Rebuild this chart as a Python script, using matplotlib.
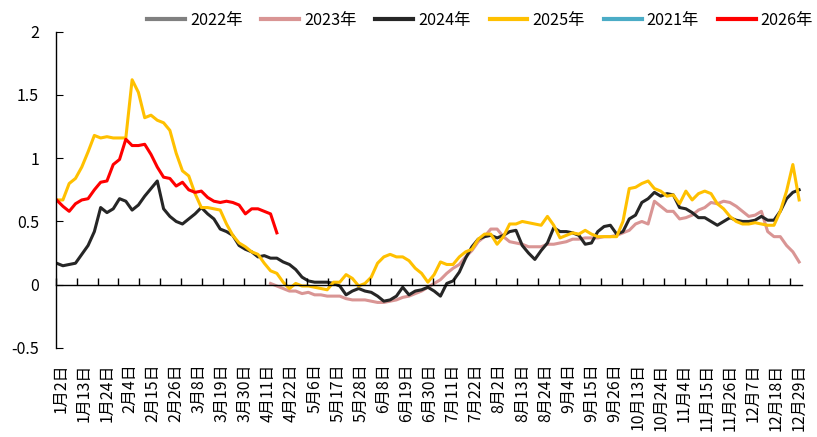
import numpy as np
import matplotlib.pyplot as plt
import matplotlib.transforms as mtransforms

plt.rcParams['font.family'] = ['Noto Sans CJK SC', 'DejaVu Sans']
plt.rcParams['axes.unicode_minus'] = False

# 日序（每3个交易日取一个点），共356个类别
n_days = 356
x_idx = np.arange(0, n_days, 3)

date_labels = ['1月2日', '1月13日', '1月24日', '2月4日', '2月15日', '2月26日', '3月8日',
               '3月19日', '3月30日', '4月11日', '4月22日', '5月6日', '5月17日', '5月28日',
               '6月8日', '6月19日', '6月30日', '7月11日', '7月22日', '8月2日', '8月13日',
               '8月24日', '9月4日', '9月15日', '9月26日', '10月13日', '10月24日', '11月4日',
               '11月15日', '11月26日', '12月7日', '12月18日', '12月29日']

nan = np.nan

y2022 = []
y2021 = []

y2023 = [nan] * 34 + [
    0.01, -0.01, -0.03, -0.05, -0.05, -0.07, -0.06, -0.08, -0.08, -0.09,
    -0.09, -0.09, -0.11, -0.12, -0.12, -0.12, -0.13, -0.14, -0.14, -0.13,
    -0.12, -0.10, -0.09, -0.07, -0.05, -0.02, 0.01, 0.04, 0.09, 0.13,
    0.16, 0.22, 0.27, 0.34, 0.38, 0.44, 0.44, 0.38, 0.34, 0.33,
    0.32, 0.30, 0.30, 0.30, 0.32, 0.32, 0.33, 0.34, 0.36, 0.36,
    0.37, 0.37, 0.37, 0.38, 0.38, 0.39, 0.41, 0.43, 0.48, 0.50,
    0.48, 0.66, 0.62, 0.58, 0.58, 0.52, 0.53, 0.55, 0.59, 0.61,
    0.65, 0.64, 0.66, 0.65, 0.62, 0.58, 0.54, 0.55, 0.58, 0.42,
    0.38, 0.38, 0.31, 0.26, 0.18]

y2024 = [
    0.17, 0.15, 0.16, 0.17, 0.24, 0.31, 0.42, 0.61, 0.57, 0.60,
    0.68, 0.66, 0.59, 0.63, 0.70, 0.76, 0.82, 0.60, 0.54, 0.50,
    0.48, 0.52, 0.56, 0.61, 0.56, 0.52, 0.44, 0.42, 0.39, 0.31,
    0.28, 0.26, 0.22, 0.23, 0.21, 0.21, 0.18, 0.16, 0.12, 0.06,
    0.03, 0.02, 0.02, 0.02, 0.01, -0.01, -0.08, -0.05, -0.03, -0.05,
    -0.06, -0.09, -0.13, -0.12, -0.09, -0.02, -0.08, -0.05, -0.04, -0.02,
    -0.05, -0.09, 0.01, 0.03, 0.10, 0.21, 0.30, 0.36, 0.38, 0.39,
    0.37, 0.39, 0.42, 0.43, 0.31, 0.25, 0.20, 0.27, 0.33, 0.45,
    0.42, 0.42, 0.41, 0.39, 0.32, 0.33, 0.42, 0.46, 0.47, 0.40,
    0.42, 0.52, 0.55, 0.65, 0.68, 0.73, 0.70, 0.72, 0.71, 0.61,
    0.60, 0.57, 0.53, 0.53, 0.50, 0.47, 0.50, 0.53, 0.51, 0.50,
    0.50, 0.51, 0.54, 0.51, 0.51, 0.58, 0.68, 0.73, 0.75]

y2025 = [
    0.67, 0.67, 0.80, 0.84, 0.93, 1.05, 1.18, 1.16, 1.17, 1.16,
    1.16, 1.16, 1.62, 1.52, 1.32, 1.34, 1.30, 1.28, 1.22, 1.04,
    0.90, 0.86, 0.72, 0.61, 0.61, 0.60, 0.59, 0.48, 0.39, 0.33,
    0.30, 0.26, 0.24, 0.17, 0.11, 0.09, 0.02, -0.03, 0.01, -0.01,
    -0.01, -0.02, -0.03, -0.04, 0.02, 0.02, 0.08, 0.05, -0.01, 0.01,
    0.06, 0.17, 0.22, 0.24, 0.22, 0.22, 0.19, 0.13, 0.09, 0.02,
    0.08, 0.18, 0.16, 0.16, 0.22, 0.26, 0.28, 0.36, 0.40, 0.40,
    0.32, 0.38, 0.48, 0.48, 0.50, 0.49, 0.48, 0.47, 0.54, 0.47,
    0.37, 0.39, 0.41, 0.40, 0.43, 0.40, 0.38, 0.38, 0.38, 0.38,
    0.50, 0.76, 0.77, 0.80, 0.82, 0.76, 0.74, 0.70, 0.71, 0.64,
    0.74, 0.67, 0.72, 0.74, 0.72, 0.64, 0.60, 0.54, 0.50, 0.48,
    0.48, 0.49, 0.48, 0.47, 0.47, 0.58, 0.74, 0.95, 0.67]

y2026 = [
    0.67, 0.62, 0.58, 0.64, 0.67, 0.68, 0.75, 0.81, 0.82, 0.95,
    0.99, 1.15, 1.10, 1.10, 1.11, 1.03, 0.93, 0.85, 0.84, 0.78,
    0.81, 0.75, 0.73, 0.74, 0.69, 0.66, 0.65, 0.66, 0.65, 0.63,
    0.56, 0.60, 0.60, 0.58, 0.56, 0.41]

fig = plt.figure(figsize=(8.17, 4.37), dpi=100)
ax = fig.add_axes([0.068, 0.2037, 0.914, 0.7238])

lw = 2.2
ax.plot(x_idx[:len(y2022)], y2022, color='#808080', lw=lw, label='2022年')
ax.plot(x_idx, y2023, color='#D99594', lw=lw, label='2023年')
ax.plot(x_idx, y2024, color='#262626', lw=lw, label='2024年')
ax.plot(x_idx, y2025, color='#FFC000', lw=lw, label='2025年')
ax.plot(x_idx[:len(y2021)], y2021, color='#4BACC6', lw=lw, label='2021年')
ax.plot(x_idx[:len(y2026)], y2026, color='#FF0000', lw=lw, label='2026年')

ylo, yhi = -0.5, 2.0
ax.set_ylim(ylo, yhi)
ax.set_xlim(-0.5, n_days - 0.5)
ax.set_yticks(np.arange(-0.5, 2.01, 0.5))
ax.set_yticklabels(['-0.5', '0', '0.5', '1', '1.5', '2'])
ax.tick_params(axis='y', direction='in', length=5, pad=12, labelsize=11.5)

ax.set_xticks(np.arange(0, n_days, 11)[:len(date_labels)])
ax.set_xticklabels(date_labels, rotation=90, fontsize=11.5, va='top', ha='center')
ax.tick_params(axis='x', length=0, pad=11)
offset = mtransforms.ScaledTranslation(3 / 72, 0, fig.dpi_scale_trans)
for lab in ax.get_xticklabels():
    lab.set_transform(lab.get_transform() + offset)

for s in ['top', 'right', 'bottom']:
    ax.spines[s].set_visible(False)
ax.spines['left'].set_linewidth(1)

# 零轴及刻度线
ax2 = ax.twiny()
ax2.set_xlim(ax.get_xlim())
for s in ['top', 'right', 'left']:
    ax2.spines[s].set_visible(False)
ax2.spines['bottom'].set_position(('data', 0))
ax2.spines['bottom'].set_linewidth(1)
ax2.xaxis.set_ticks_position('bottom')
ax2.set_xticks(np.arange(-0.5, n_days - 5, 10))
ax2.tick_params(axis='x', direction='in', length=5, width=1, labelbottom=False, labeltop=False)

leg = fig.legend(loc='center', bbox_to_anchor=(0.5875, 0.954), ncol=6, frameon=False,
                 fontsize=11.7, handlelength=2.33, handletextpad=0.3, columnspacing=1.17)
for h in leg.get_lines():
    h.set_linewidth(3.0)

fig.savefig('out.png', dpi=100)
